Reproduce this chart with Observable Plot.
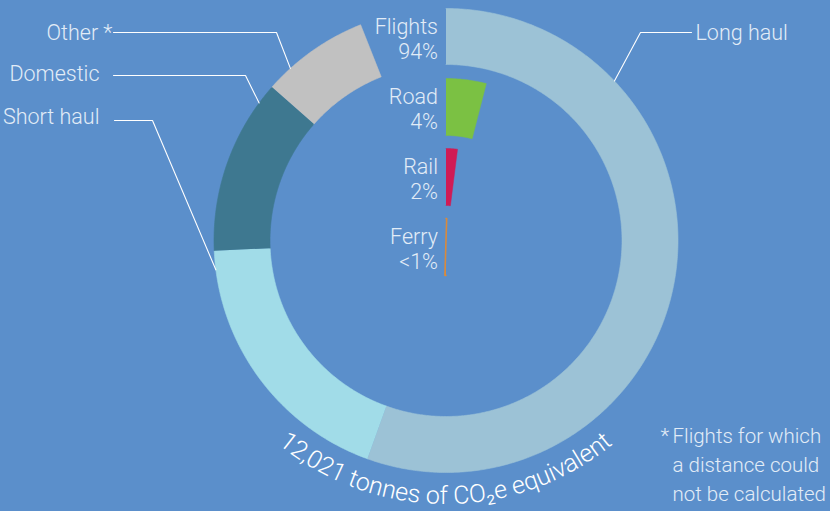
<!DOCTYPE html>
<html><head><meta charset="utf-8">
<script src="https://cdn.jsdelivr.net/npm/d3@7"></script>
<script src="https://cdn.jsdelivr.net/npm/@observablehq/plot@0.6"></script>
<style>
html,body{margin:0;padding:0;background:#5b8fcb;overflow:hidden;}
#chart svg{display:block;}
</style></head><body><div id="chart"></div>
<script>
// ---- data ----
const flightSegments = ["Long haul", "Short haul", "Domestic", "Other *"];
const flightShares = [55.5, 18.8, 12.2, 7.5];          // % of all travel emissions
const modes = ["Flights", "Road", "Rail", "Ferry"];
const modeShares = [94, 4, 2, 0.5];
const modeLabels = ["94%", "4%", "2%", "<1%"];
const totalText = "12,021 tonnes of CO\u2082e equivalent";
const footnoteLines = ["Flights for which", "a distance could", "not be calculated"];

// ---- layout & style ----
const W = 830, H = 511, cx = 445.5, cy = 240;
const bg = "#5b8fcb";
const segColors = ["#9cc2d6", "#a1dce8", "#3e7890", "#c1c1c1"];
const modeColors = [null, "#7bc143", "#d01b55", "#d98a3c"];
const outerR = 232, bandH = 56, bandStep = 70;
const labelFill = "#e2ecf7";
const font = "'Roboto Light', Roboto, 'Helvetica Neue', Arial, sans-serif";
const fw = 300;

const rad = d => d * Math.PI / 180;
const pt = (a, r) => ({x: cx + r * Math.sin(rad(a)), y: cy - r * Math.cos(rad(a))});
function sector(a0, a1, r0, r1) {
  const pts = [];
  const n = Math.max(2, Math.ceil(Math.abs(a1 - a0) / 0.5));
  for (let i = 0; i <= n; i++) pts.push(pt(a0 + (a1 - a0) * i / n, r1));
  for (let i = n; i >= 0; i--) pts.push(pt(a0 + (a1 - a0) * i / n, r0));
  return pts;
}

const marks = [];
// flights ring
let acc = 0;
const segAngles = flightShares.map(s => { const a0 = acc; acc += s * 3.6; return [a0, acc]; });
segAngles.forEach(([a0, a1], i) => {
  marks.push(Plot.line(sector(a0, a1, outerR - bandH, outerR),
    {x: "x", y: "y", fill: segColors[i], stroke: segColors[i], strokeWidth: 0.6}));
});
// other modes
modes.forEach((m, i) => {
  if (i === 0) return;
  const r1 = outerR - i * bandStep, r0 = r1 - bandH - 1;
  marks.push(Plot.line(sector(0, modeShares[i] * 3.6, r0, r1),
    {x: "x", y: "y", fill: modeColors[i], stroke: modeColors[i], strokeWidth: i === 3 ? 1.6 : 0.5}));
});

// mode labels
modes.forEach((m, i) => {
  const top = cy - (outerR - i * bandStep);
  marks.push(Plot.text([m], {x: () => 437.5, y: () => top + 25.5, text: d => d, textAnchor: "end", lineAnchor: "bottom",
    fontSize: 21.5, fontWeight: fw, fill: labelFill}));
  marks.push(Plot.text([modeLabels[i]], {x: () => 437.5, y: () => top + 50.5, text: d => d, textAnchor: "end", lineAnchor: "bottom",
    fontSize: 21.5, fontWeight: fw, fill: labelFill}));
});

// leaders for flight segments
const leaderFrac = [0.233, 0.93, 0.885, 0.24];
const leaderLayout = [
  {pts: [[640, 32], [691, 32]], label: [695, 39, "start"]},
  {pts: [[152, 120], [114, 120]], label: [99, 123, "end"]},
  {pts: [[245, 75], [113, 75]], label: [99, 80, "end"]},
  {pts: [[276, 32], [113, 32]], label: [112, 39, "end"]}
];
flightSegments.forEach((s, i) => {
  const [a0, a1] = segAngles[i];
  const p = pt(a0 + (a1 - a0) * leaderFrac[i], outerR);
  const L = leaderLayout[i];
  const line = [p, ...L.pts.map(([x, y]) => ({x, y}))];
  marks.push(Plot.line(line, {x: "x", y: "y", stroke: "white", strokeWidth: 1.1}));
  marks.push(Plot.text([s], {x: () => L.label[0], y: () => L.label[1], text: d => d, textAnchor: L.label[2], lineAnchor: "bottom",
    fontSize: 21.5, fontWeight: fw, fill: labelFill}));
});

// footnote
marks.push(Plot.text(["*"], {x: () => 660, y: () => 442, text: d => d, textAnchor: "start", lineAnchor: "bottom", fontSize: 20.5, fontWeight: fw, fill: labelFill}));
footnoteLines.forEach((t, i) => {
  marks.push(Plot.text([t], {x: () => 672, y: () => 442 + i * 29, text: d => d, textAnchor: "start", lineAnchor: "bottom",
    fontSize: 20.5, fontWeight: fw, fill: labelFill}));
});

const chart = Plot.plot({
  width: W, height: H, margin: 0,
  x: {domain: [0, W], range: [0, W], axis: null},
  y: {domain: [0, H], range: [0, H], axis: null},
  style: {background: bg, fontFamily: font, overflow: "visible"},
  marks
});
document.getElementById("chart").appendChild(chart);

// curved total label along the bottom of the ring
const sx = chart.scale("x"), sy = chart.scale("y");
const r = 264;
const svg = d3.select(chart);
svg.append("defs").append("path").attr("id", "totalArc")
  .attr("d", `M${sx.apply(cx - r)},${sy.apply(cy)} A${r},${r} 0 0 0 ${sx.apply(cx + r)},${sy.apply(cy)}`);
svg.append("text").attr("fill", "white").attr("font-size", 25).attr("font-weight", fw)
  .attr("font-family", font)
  .append("textPath").attr("href", "#totalArc").attr("startOffset", "50%").attr("text-anchor", "middle")
  .text(totalText);
</script></body></html>
